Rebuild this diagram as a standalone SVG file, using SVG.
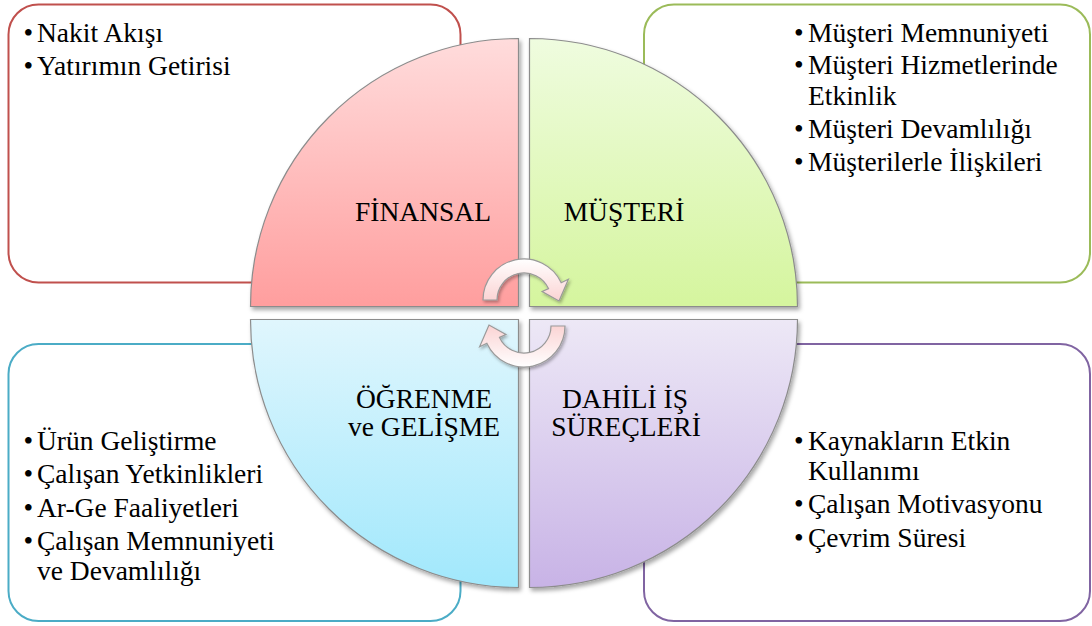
<svg xmlns="http://www.w3.org/2000/svg" width="1092" height="626" viewBox="0 0 1092 626">
  <defs>
    <filter id="sh" x="-10%" y="-10%" width="130%" height="130%">
      <feDropShadow dx="2" dy="3" stdDeviation="2.2" flood-color="#000" flood-opacity="0.35"/>
    </filter>
    <filter id="sh2" x="-20%" y="-20%" width="150%" height="150%">
      <feDropShadow dx="1.5" dy="2" stdDeviation="1.5" flood-color="#000" flood-opacity="0.3"/>
    </filter>
    <linearGradient id="gRed" x1="0" y1="0" x2="0" y2="1">
      <stop offset="0" stop-color="#ffdcdc"/>
      <stop offset="1" stop-color="#ff9e9e"/>
    </linearGradient>
    <linearGradient id="gGreen" x1="0" y1="0" x2="0" y2="1">
      <stop offset="0" stop-color="#effcdf"/>
      <stop offset="1" stop-color="#d5f59e"/>
    </linearGradient>
    <linearGradient id="gBlue" x1="0" y1="0" x2="0" y2="1">
      <stop offset="0" stop-color="#e0f6fd"/>
      <stop offset="1" stop-color="#a1e8fc"/>
    </linearGradient>
    <linearGradient id="gPurple" x1="0" y1="0" x2="0" y2="1">
      <stop offset="0" stop-color="#ede8f6"/>
      <stop offset="1" stop-color="#c8b3e6"/>
    </linearGradient>
    <linearGradient id="gArrow" x1="0" y1="0" x2="0" y2="1">
      <stop offset="0" stop-color="#ffffff"/>
      <stop offset="1" stop-color="#fbd3d3"/>
    </linearGradient>
    <path id="cycArrow" d="M 483 300 A 41 41 0 0 1 561.2 282.7 L 568.4 279.3 L 559 301 L 542.1 291.5 L 548.5 288.6 A 27 27 0 0 0 497 300 Z"/>
  </defs>

  <!-- outlined panels; each border stops at the circle so it can be drawn in any order -->
  <g id="panel-finansal">
    <path d="M 252 282.5 L 38.5 282.5 A 30 30 0 0 1 8.5 252.5 L 8.5 34.5 A 30 30 0 0 1 38.5 4.5 L 430.5 4.5 A 30 30 0 0 1 460.5 34.5 L 460.5 45" fill="none" stroke="#c0504d" stroke-width="2"/>
    <g font-family="Liberation Serif" font-size="27.5" fill="#000">
      <text x="23.5" y="42">•</text>
      <text x="37" y="42">Nakit Akışı</text>
      <text x="23.5" y="75">•</text>
      <text x="37" y="75">Yatırımın Getirisi</text>
    </g>
  </g>
  <g id="panel-musteri">
    <path d="M 644 65 L 644 34.5 A 30 30 0 0 1 674 4.5 L 1060 4.5 A 30 30 0 0 1 1090 34.5 L 1090 252.5 A 30 30 0 0 1 1060 282.5 L 796 282.5" fill="none" stroke="#9bbb59" stroke-width="2"/>
    <g font-family="Liberation Serif" font-size="27.5" fill="#000">
      <text x="794" y="42">•</text>
      <text x="808" y="42">Müşteri Memnuniyeti</text>
      <text x="794" y="74">•</text>
      <text x="808" y="74">Müşteri Hizmetlerinde</text>
      <text x="808" y="105">Etkinlik</text>
      <text x="794" y="138">•</text>
      <text x="808" y="138">Müşteri Devamlılığı</text>
      <text x="794" y="171">•</text>
      <text x="808" y="171">Müşterilerle İlişkileri</text>
    </g>
  </g>
  <g id="panel-ogrenme">
    <path d="M 252 344 L 38.5 344 A 30 30 0 0 0 8.5 374 L 8.5 591 A 30 30 0 0 0 38.5 621 L 430.5 621 A 30 30 0 0 0 460.5 591 L 460.5 575" fill="none" stroke="#4bacc6" stroke-width="2"/>
    <g font-family="Liberation Serif" font-size="27.5" fill="#000">
      <text x="23.5" y="450">•</text>
      <text x="37" y="450">Ürün Geliştirme</text>
      <text x="23.5" y="483">•</text>
      <text x="37" y="483">Çalışan Yetkinlikleri</text>
      <text x="23.5" y="517">•</text>
      <text x="37" y="517">Ar-Ge Faaliyetleri</text>
      <text x="23.5" y="550">•</text>
      <text x="37" y="550">Çalışan Memnuniyeti</text>
      <text x="37" y="580">ve Devamlılığı</text>
    </g>
  </g>
  <g id="panel-dahili">
    <path d="M 796 344 L 1060 344 A 30 30 0 0 1 1090 374 L 1090 591 A 30 30 0 0 1 1060 621 L 674 621 A 30 30 0 0 1 644 591 L 644 560" fill="none" stroke="#8064a2" stroke-width="2"/>
    <g font-family="Liberation Serif" font-size="27.5" fill="#000">
      <text x="794" y="450">•</text>
      <text x="808" y="450">Kaynakların Etkin</text>
      <text x="808" y="480">Kullanımı</text>
      <text x="794" y="513">•</text>
      <text x="808" y="513">Çalışan Motivasyonu</text>
      <text x="794" y="547">•</text>
      <text x="808" y="547">Çevrim Süresi</text>
    </g>
  </g>

  <!-- four quarter segments of the circle -->
  <g id="node-finansal">
    <path fill="url(#gRed)" stroke="#8c8c8c" stroke-width="1.2" filter="url(#sh)" d="M 518.5 306.5 L 250.5 306.5 A 268 268 0 0 1 518.5 38.5 Z"/>
    <text x="423" y="221" font-family="Liberation Serif" font-size="27.5" text-anchor="middle">FİNANSAL</text>
  </g>
  <g id="node-musteri">
    <path fill="url(#gGreen)" stroke="#8c8c8c" stroke-width="1.2" filter="url(#sh)" d="M 529.5 306.5 L 529.5 38.5 A 268 268 0 0 1 797.5 306.5 Z"/>
    <text x="624" y="221" font-family="Liberation Serif" font-size="27.5" text-anchor="middle">MÜŞTERİ</text>
  </g>
  <g id="node-ogrenme">
    <path fill="url(#gBlue)" stroke="#8c8c8c" stroke-width="1.2" filter="url(#sh)" d="M 518.5 319.5 L 518.5 587.5 A 268 268 0 0 1 250.5 319.5 Z"/>
    <text x="424" y="408" font-family="Liberation Serif" font-size="27.5" text-anchor="middle">ÖĞRENME</text>
    <text x="424" y="436" font-family="Liberation Serif" font-size="27.5" text-anchor="middle">ve GELİŞME</text>
  </g>
  <g id="node-dahili">
    <path fill="url(#gPurple)" stroke="#8c8c8c" stroke-width="1.2" filter="url(#sh)" d="M 529.5 319.5 L 797.5 319.5 A 268 268 0 0 1 529.5 587.5 Z"/>
    <text x="625" y="408" font-family="Liberation Serif" font-size="27.5" text-anchor="middle">DAHİLİ İŞ</text>
    <text x="626" y="436" font-family="Liberation Serif" font-size="27.5" text-anchor="middle">SÜREÇLERİ</text>
  </g>

  <!-- circular arrows in the centre -->
  <g id="connectors" fill="url(#gArrow)" stroke="#9a9a9a" stroke-width="1.2" filter="url(#sh2)">
    <use href="#cycArrow"/>
    <use href="#cycArrow" transform="rotate(180 524 313)"/>
  </g>
</svg>
